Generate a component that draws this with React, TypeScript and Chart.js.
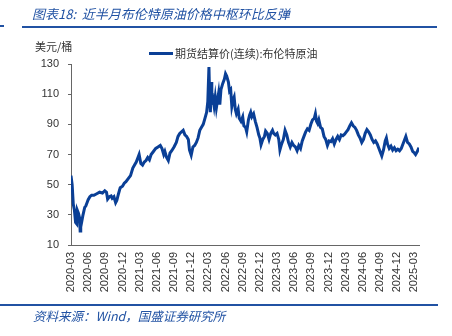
import React, { useEffect, useRef } from "react";
import { Chart, registerables } from "chart.js";

Chart.register(...registerables);

// months since 2020-03 (fractional)
const months = [
  0.0, 0.2, 0.4, 0.6, 0.8, 1.0, 1.1, 1.3, 1.5, 1.6, 1.7, 1.9, 2.1, 2.4, 2.6, 2.8, 3.0, 3.3, 3.6, 4.0,
  4.5, 5.0, 5.5, 5.9, 6.2, 6.4, 6.7, 7.0, 7.2, 7.5, 7.8, 8.0, 8.3, 8.6, 9.0, 9.3, 9.6, 10.0, 10.4, 10.8,
  11.1, 11.4, 11.7, 11.9, 12.2, 12.5, 12.8, 13.1, 13.4, 13.7, 14.0, 14.4, 14.8, 15.2, 15.6, 15.9, 16.2, 16.4, 16.7, 17.0,
  17.3, 17.6, 18.0, 18.4, 18.7, 19.0, 19.3, 19.6, 19.9, 20.2, 20.5, 20.7, 21.0, 21.3, 21.6, 21.9, 22.2, 22.5, 22.8, 23.1,
  23.4, 23.7, 23.9, 24.1, 24.2, 24.35, 24.5, 24.6, 24.8, 25.0, 25.2, 25.4, 25.6, 25.8, 26.0, 26.2, 26.5, 26.8, 27.0, 27.2,
  27.5, 27.7, 27.9, 28.1, 28.3, 28.5, 28.7, 28.9, 29.2, 29.4, 29.7, 30.0, 30.2, 30.5, 30.7, 31.0, 31.2, 31.4, 31.6, 31.9,
  32.2, 32.5, 32.8, 33.0, 33.2, 33.5, 33.8, 34.0, 34.3, 34.6, 34.9, 35.2, 35.4, 35.7, 36.0, 36.3, 36.5, 36.8, 37.1, 37.4,
  37.7, 38.0, 38.3, 38.6, 38.9, 39.2, 39.5, 39.8, 40.1, 40.4, 40.7, 41.0, 41.3, 41.6, 41.9, 42.2, 42.5, 42.7, 42.9, 43.1,
  43.3, 43.6, 43.9, 44.2, 44.5, 44.8, 45.1, 45.4, 45.7, 46.0, 46.3, 46.6, 46.9, 47.2, 47.5, 47.8, 48.1, 48.4, 48.7, 49.0,
  49.3, 49.6, 49.9, 50.2, 50.5, 50.8, 51.1, 51.4, 51.7, 52.0, 52.3, 52.6, 52.9, 53.2, 53.5, 53.8, 54.1, 54.3, 54.6, 54.9,
  55.1, 55.3, 55.6, 55.9, 56.2, 56.5, 56.8, 57.1, 57.4, 57.7, 58.0, 58.3, 58.5, 58.8, 59.1, 59.4, 59.7, 60.0, 60.2, 60.5,
  60.8,
];

const prices = [
  56, 50, 37, 33, 25, 24, 33, 31, 28, 19.3, 22, 26, 30, 35, 36, 38, 40, 42, 43, 43,
  44, 45, 44.5, 46, 45, 40.5, 42, 42.5, 41, 42, 38, 39.5, 44, 48, 49, 51, 52, 54, 56, 61,
  63, 65, 68, 70, 64, 63, 65, 66, 68, 66.5, 70, 72, 74, 75, 76, 74, 70, 72, 68, 66,
  71, 72.5, 75, 78, 82, 84, 85, 86, 83, 82, 80, 73, 69.5, 75, 76, 78, 81, 86, 88, 90,
  94, 98, 105, 128, 112, 98, 118, 105, 107, 102, 108, 101, 106, 111, 103, 113, 117, 120, 123.5, 122,
  118, 112, 113, 102, 106, 108, 100, 97, 100, 94, 92, 95, 89, 88, 85, 93, 96, 98, 95, 97,
  92, 88, 83, 81, 76.5, 80, 82, 85.5, 84, 80, 84, 86, 84, 83, 84, 80, 73, 77, 80, 86,
  83, 78, 75, 78, 76, 75, 72.5, 76, 74, 79, 82, 85, 87, 86, 90, 93, 94, 97, 92, 90.5,
  93, 88, 87, 82, 80, 76, 79, 78.5, 80.5, 77, 80, 82, 80, 83, 82.5, 83.5, 85, 86.5, 89, 91,
  89, 88, 86, 83, 81, 78, 80, 84, 86.5, 85, 83, 80, 78, 79, 77, 74, 71, 69, 73, 79,
  81, 77, 74, 75.5, 73, 74.5, 72.5, 73.5, 72.5, 74, 77, 80, 82, 78, 77, 75, 72, 71, 70, 72,
  74.5,
];

const tickLabels = [
  "2020-03", "2020-06", "2020-09", "2020-12", "2021-03", "2021-06", "2021-09", "2021-12",
  "2022-03", "2022-06", "2022-09", "2022-12", "2023-03", "2023-06", "2023-09", "2023-12",
  "2024-03", "2024-06", "2024-09", "2024-12", "2025-03",
];

const yTicks = [10, 30, 50, 70, 90, 110, 130];

const seriesName = "期货结算价(连续):布伦特原油";
const titleText = "图表18:  近半月布伦特原油价格中枢环比反弹";
const sourceText = "资料来源：Wind，国盛证券研究所";
const unitText = "美元/桶";

const LINE_COLOR = "#0a3f96";
const TITLE_COLOR = "#2152a3";
const CJK = '"Noto Sans CJK SC", "Liberation Sans", sans-serif';
const LATIN = '"Liberation Sans", Arial, sans-serif';

export default function App() {
  const ref = useRef<HTMLCanvasElement>(null);

  useEffect(() => {
    if (!ref.current) return;
    const chart = new Chart(ref.current, {
      type: "line",
      data: {
        datasets: [
          {
            label: seriesName,
            data: months.map((m, i) => ({ x: m, y: prices[i] })),
            borderColor: LINE_COLOR,
            backgroundColor: LINE_COLOR,
            borderWidth: 3,
            pointRadius: 0,
            tension: 0,
            fill: false,
          },
        ],
      },
      options: {
        animation: false,
        responsive: false,
        maintainAspectRatio: false,
        layout: { padding: { left: 0, right: 33, top: 64, bottom: 0 } },
        plugins: {
          legend: { display: false },
          tooltip: { enabled: false },
        },
        scales: {
          x: {
            type: "linear",
            min: 0,
            max: 60.8,
            afterBuildTicks: (s: any) => {
              s.ticks = tickLabels.map((_, i) => ({ value: i * 3 }));
            },
            afterFit: (s: any) => {
              s.height = 91;
            },
            ticks: {
              autoSkip: false,
              maxRotation: 90,
              minRotation: 90,
              padding: 7,
              color: "#333",
              font: { family: LATIN, size: 11 },
              callback: (_v: any, i: number) => tickLabels[i] ?? "",
            },
            grid: { display: false, drawTicks: false },
            border: { display: true, color: "#666", width: 1 },
          },
          y: {
            min: 10,
            max: 130,
            afterBuildTicks: (s: any) => {
              s.ticks = yTicks.map((v) => ({ value: v }));
            },
            afterFit: (s: any) => {
              s.width = 71;
            },
            ticks: {
              padding: 9,
              color: "#333",
              font: { family: LATIN, size: 11 },
            },
            grid: {
              display: true,
              drawOnChartArea: false,
              drawTicks: true,
              tickLength: 3,
              color: "#666",
            },
            border: { display: true, color: "#666", width: 1 },
          },
        },
      },
    });
    return () => chart.destroy();
  }, []);

  return (
    <div
      style={{
        position: "fixed",
        left: 0,
        top: 0,
        width: 452,
        height: 336,
        background: "#fff",
        overflow: "hidden",
      }}
    >
      <canvas
        ref={ref}
        width={452}
        height={336}
        style={{ position: "absolute", left: 0, top: 0, width: 452, height: 336 }}
      />
      <div
        style={{
          position: "absolute",
          left: 32,
          top: 5,
          fontFamily: CJK,
          fontStyle: "italic",
          fontSize: 13,
          lineHeight: "17px",
          color: TITLE_COLOR,
          whiteSpace: "pre",
        }}
      >
        {titleText}
      </div>
      <div style={{ position: "absolute", left: 0, top: 25, width: 4, height: 1.5, background: TITLE_COLOR }} />
      <div style={{ position: "absolute", left: 22, top: 26, width: 415, height: 1.5, background: TITLE_COLOR }} />
      <div
        style={{
          position: "absolute",
          left: 35,
          top: 39,
          fontFamily: CJK,
          fontSize: 11,
          lineHeight: "15px",
          color: "#333",
          whiteSpace: "pre",
        }}
      >
        {unitText}
      </div>
      <div style={{ position: "absolute", left: 149, top: 52, width: 24, height: 3, background: LINE_COLOR }} />
      <div
        style={{
          position: "absolute",
          left: 175,
          top: 46,
          fontFamily: CJK,
          fontSize: 11,
          lineHeight: "15px",
          color: "#333",
          whiteSpace: "pre",
        }}
      >
        {seriesName}
      </div>
      <div style={{ position: "absolute", left: 0, top: 304, width: 438, height: 1.5, background: TITLE_COLOR }} />
      <div
        style={{
          position: "absolute",
          left: 33,
          top: 307,
          fontFamily: CJK,
          fontStyle: "italic",
          fontSize: 12.5,
          lineHeight: "17px",
          color: TITLE_COLOR,
          whiteSpace: "pre",
        }}
      >
        {sourceText}
      </div>
    </div>
  );
}
